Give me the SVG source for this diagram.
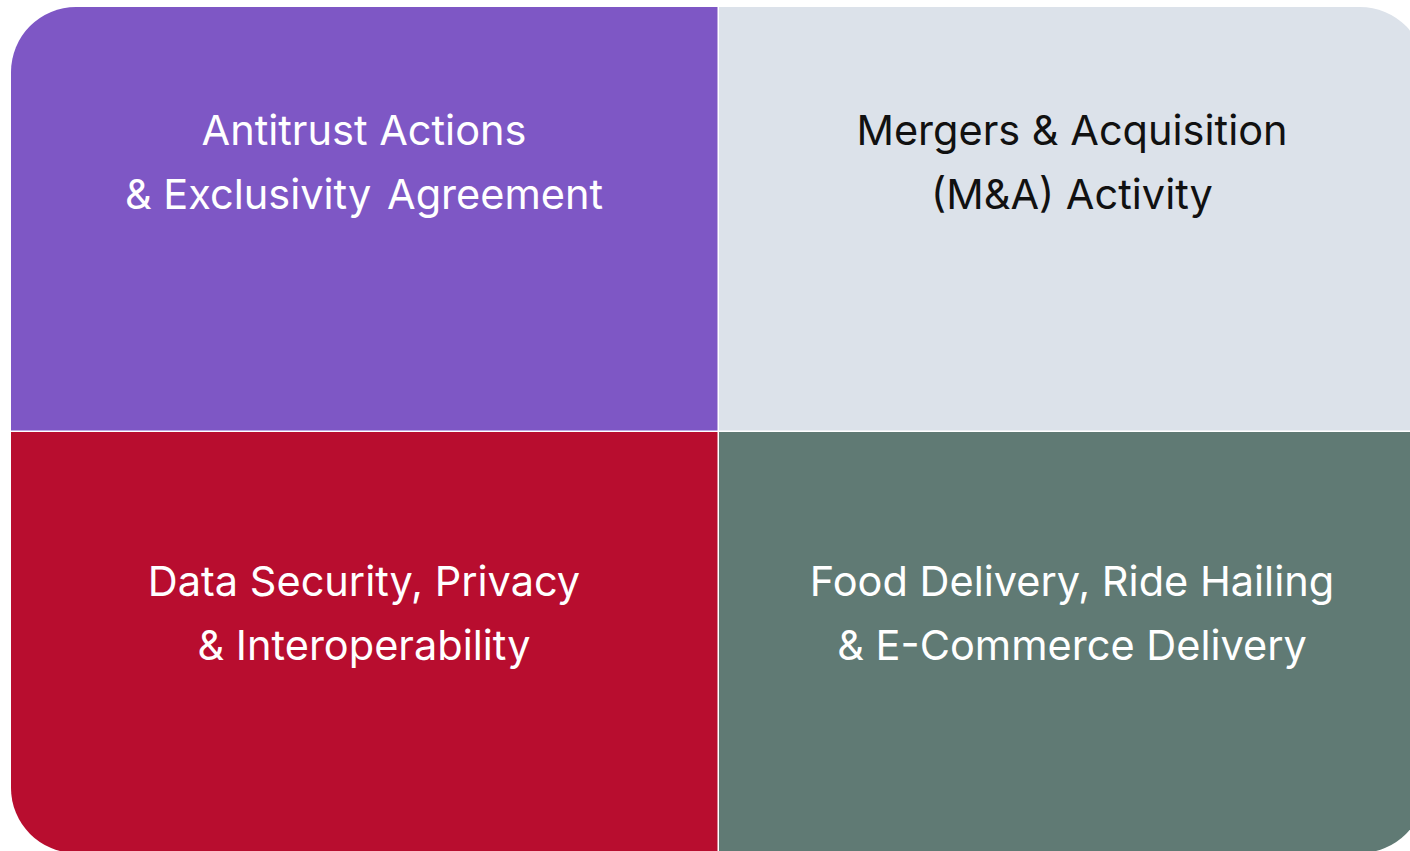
<svg xmlns="http://www.w3.org/2000/svg" width="1410" height="851" viewBox="0 0 1410 851">
<style>
  .lbl { font-family: Inter, "Liberation Sans", sans-serif; font-size: 41.5px; font-weight: 400; text-anchor: middle; }
  .w { fill: #ffffff; }
  .k { fill: #111111; }
</style>
<rect x="0" y="0" width="1410" height="851" fill="#ffffff"/>
<g id="node-antitrust">
  <path d="M11,72 A65,65 0 0 1 76,7 H717.5 V430.5 H11 Z" fill="#7E57C5"/>
  <text class="lbl w" x="364" y="145">Antitrust Actions</text>
  <text class="lbl w" x="364" y="209">&amp; Exclusivity <tspan dx="4">Agreement</tspan></text>
</g>
<g id="node-mergers">
  <path d="M719,7 H1360 A65,65 0 0 1 1425,72 V430.5 H719 Z" fill="#DCE2EA"/>
  <text class="lbl k" x="1072" y="145">Mergers &amp; Acquisition</text>
  <text class="lbl k" x="1072" y="209">(M&amp;A) Activity</text>
</g>
<g id="node-data">
  <path d="M11,432 H717.5 V853 H76 A65,65 0 0 1 11,788 Z" fill="#B80D2F"/>
  <text class="lbl w" x="364" y="596">Data Security, Privacy</text>
  <text class="lbl w" x="364" y="660">&amp; Interoperability</text>
</g>
<g id="node-delivery">
  <path d="M719,432 H1425 V788 A65,65 0 0 1 1360,853 H719 Z" fill="#607A74"/>
  <text class="lbl w" x="1072" y="596">Food Delivery, Ride Hailing</text>
  <text class="lbl w" x="1072" y="660">&amp; E-Commerce Delivery</text>
</g>
<g id="connectors"></g>
</svg>
